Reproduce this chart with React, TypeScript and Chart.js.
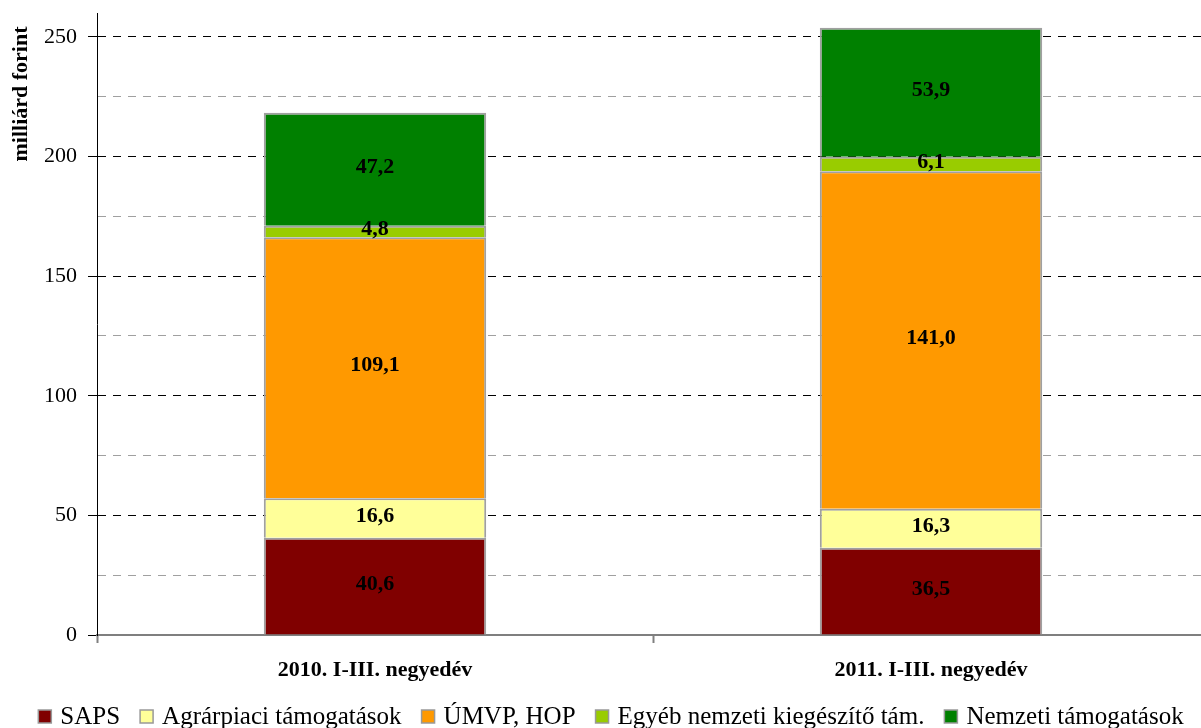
import React, { useEffect, useRef } from 'react';
import { Chart, registerables } from 'chart.js';

Chart.register(...registerables);

const categories = ['2010. I-III. negyedév', '2011. I-III. negyedév'];
const seriesNames = ['SAPS', 'Agrárpiaci támogatások', 'ÚMVP, HOP', 'Egyéb nemzeti kiegészítő tám.', 'Nemzeti támogatások'];
const saps = [40.6, 36.5];
const agrarpiaci = [16.6, 16.3];
const umvpHop = [109.1, 141.0];
const egyebNemzeti = [4.8, 6.1];
const nemzeti = [47.2, 53.9];
const seriesColors = ['#800000', '#FFFF99', '#FF9900', '#99CC00', '#008000'];
const yMax = 260;
const yTickValues = [0, 25, 50, 75, 100, 125, 150, 175, 200, 225, 250];
const yLabelValues = [0, 50, 100, 150, 200, 250];
const yAxisTitle = 'milliárd forint';

const SERIF = '"Liberation Serif", "DejaVu Serif", serif';

const isLabelled = (v: number) => yLabelValues.indexOf(v) >= 0;

const valueLabels = {
  id: 'valueLabels',
  afterDatasetsDraw(chart: any) {
    const ctx = chart.ctx;
    ctx.save();
    ctx.font = `bold 22px ${SERIF}`;
    ctx.fillStyle = '#000';
    ctx.textAlign = 'center';
    ctx.textBaseline = 'middle';
    chart.data.datasets.forEach((ds: any, di: number) => {
      const meta = chart.getDatasetMeta(di);
      meta.data.forEach((el: any, i: number) => {
        const v = ds.data[i] as number;
        const y = (el.y + el.base) / 2;
        ctx.fillText(v.toFixed(1).replace('.', ','), el.x, y - 2);
      });
    });
    ctx.restore();
  },
};

const yTitle = {
  id: 'yTitle',
  afterDraw(chart: any) {
    const ctx = chart.ctx;
    ctx.save();
    ctx.translate(27, 94);
    ctx.rotate(-Math.PI / 2);
    ctx.font = `bold 22px ${SERIF}`;
    ctx.fillStyle = '#000';
    ctx.textAlign = 'center';
    ctx.textBaseline = 'alphabetic';
    ctx.fillText(yAxisTitle, 0, 0);
    ctx.restore();
  },
};

const customLegend = {
  id: 'customLegend',
  afterDraw(chart: any) {
    const ctx = chart.ctx;
    ctx.save();
    ctx.font = `25px ${SERIF}`;
    ctx.textBaseline = 'alphabetic';
    ctx.textAlign = 'left';
    const box = 13;
    const boxGap = 9;
    const itemGap = 20;
    const widths = seriesNames.map((n) => box + boxGap + ctx.measureText(n).width);
    const total = widths.reduce((a, b) => a + b, 0) + itemGap * (seriesNames.length - 1);
    let x = 611 - total / 2;
    const baseline = 724;
    const boxCenter = 716.5;
    seriesNames.forEach((n, i) => {
      ctx.fillStyle = seriesColors[i];
      ctx.fillRect(x, boxCenter - box / 2, box, box);
      ctx.strokeStyle = '#999999';
      ctx.lineWidth = 1.5;
      ctx.strokeRect(x, boxCenter - box / 2, box, box);
      ctx.fillStyle = '#000';
      ctx.fillText(n, x + box + boxGap, baseline);
      x += widths[i] + itemGap;
    });
    ctx.restore();
  },
};

export default function App() {
  const ref = useRef<HTMLCanvasElement>(null);
  useEffect(() => {
    if (!ref.current) return;
    const seriesData = [saps, agrarpiaci, umvpHop, egyebNemzeti, nemzeti];
    const chart = new Chart(ref.current, {
      type: 'bar',
      data: {
        labels: categories,
        datasets: seriesNames.map((name, i) => ({
          label: name,
          data: seriesData[i],
          backgroundColor: seriesColors[i],
          borderColor: '#a0a0a0',
          borderWidth: 2,
          barPercentage: 0.4,
          categoryPercentage: 1,
        })),
      },
      options: {
        animation: false,
        responsive: true,
        maintainAspectRatio: false,
        events: [],
        layout: { padding: { left: 0, top: 13, right: 11, bottom: 0 } },
        plugins: { legend: { display: false }, tooltip: { enabled: false }, title: { display: false } },
        scales: {
          x: {
            stacked: true,
            offset: true,
            grid: {
              display: true,
              drawOnChartArea: false,
              offset: true,
              tickLength: 8,
              color: '#808080',
              tickColor: '#808080',
              tickWidth: 2,
            },
            border: { display: true, color: '#7f7f7f', width: 2 },
            ticks: {
              color: '#000',
              padding: 14,
              font: { family: SERIF, size: 22, weight: 'bold' },
              maxRotation: 0,
              autoSkip: false,
            },
            afterFit(scale: any) {
              scale.height = 93;
              scale.paddingLeft = 0;
              scale.paddingRight = 0;
            },
          },
          y: {
            stacked: true,
            min: 0,
            max: yMax,
            afterBuildTicks(scale: any) {
              scale.ticks = yTickValues.map((v) => ({ value: v }));
            },
            ticks: {
              color: '#000',
              padding: 11,
              autoSkip: false,
              font: { family: SERIF, size: 22 },
              callback: (v: any) => (isLabelled(Number(v)) ? String(v) : ''),
            },
            grid: {
              drawTicks: true,
              tickLength: 9,
              lineWidth: 1,
              color: (c: any) =>
                c.tick && c.tick.value === 0
                  ? 'rgba(0,0,0,0)'
                  : c.tick && isLabelled(c.tick.value)
                  ? '#000000'
                  : '#a0a0a0',
              tickColor: (c: any) => (c.tick && isLabelled(c.tick.value) ? '#000000' : 'rgba(0,0,0,0)'),
            },
            border: { display: true, color: '#000', width: 1, dash: [8, 7] },
            afterFit(scale: any) {
              scale.width = 97;
              scale.paddingTop = 0;
              scale.paddingBottom = 0;
            },
          },
        },
      },
      plugins: [valueLabels, yTitle, customLegend],
    });
    return () => chart.destroy();
  }, []);
  return (
    <div style={{ position: 'absolute', left: 0, top: 0, width: 1201, height: 728, overflow: 'hidden', background: '#fff' }}>
      <div style={{ position: 'relative', width: 1220, height: 728 }}>
        <canvas ref={ref} />
      </div>
    </div>
  );
}
